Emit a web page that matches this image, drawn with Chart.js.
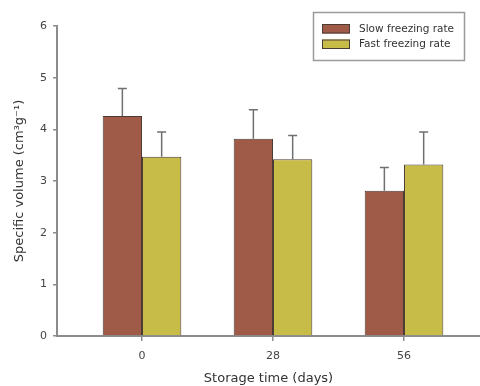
<!DOCTYPE html>
<html>
<head>
<meta charset="utf-8">
<script src="https://cdn.jsdelivr.net/npm/chart.js@4"></script>
<style>
  html, body { margin: 0; padding: 0; background: #fff; }
  #c { display: block; }
</style>
</head>
<body>
<canvas id="c" width="480" height="386"></canvas>
<script>
// Specific volume of frozen samples over storage time
const storageDays = [0, 28, 56];
const slowMeans = [4.26, 3.82, 2.81];
const slowErrors = [0.53, 0.56, 0.45];
const fastMeans = [3.47, 3.42, 3.32];
const fastErrors = [0.48, 0.46, 0.63];
const seriesNames = ['Slow freezing rate', 'Fast freezing rate'];
const yTickValues = [0, 1, 2, 3, 4, 5, 6];

const FONT = 'DejaVu Sans';
const AXIS_GREY = '#8c8c8c';
const TEXT_GREY = '#444';

function toPoints(means) {
  return storageDays.map((d, i) => ({ x: d, y: means[i] }));
}

// Upper error whiskers drawn on top of each bar
const errorBars = {
  id: 'errorBars',
  afterDatasetsDraw(chart) {
    const ctx = chart.ctx;
    const yScale = chart.scales.y;
    chart.data.datasets.forEach((ds, i) => {
      const meta = chart.getDatasetMeta(i);
      meta.data.forEach((bar, j) => {
        const top = yScale.getPixelForValue(ds.data[j].y + ds.errors[j]);
        ctx.save();
        ctx.strokeStyle = '#707070';
        ctx.lineWidth = 1.5;
        ctx.beginPath();
        ctx.moveTo(bar.x, bar.y);
        ctx.lineTo(bar.x, top);
        ctx.moveTo(bar.x - 4.5, top);
        ctx.lineTo(bar.x + 4.5, top);
        ctx.stroke();
        ctx.restore();
      });
    });
  }
};

// Boxed legend in the upper right corner
const boxedLegend = {
  id: 'boxedLegend',
  afterDraw(chart) {
    const ctx = chart.ctx;
    ctx.save();
    ctx.strokeStyle = '#9a9a9a';
    ctx.lineWidth = 1.5;
    ctx.strokeRect(313.5, 12.5, 151, 48);
    ctx.font = '10.5px ' + FONT;
    ctx.textBaseline = 'middle';
    ctx.textAlign = 'left';
    chart.data.datasets.forEach((ds, i) => {
      const y = 24 + i * 15.5;
      ctx.fillStyle = ds.backgroundColor;
      ctx.fillRect(322, y, 28, 9.5);
      ctx.strokeStyle = '#4a3b33';
      ctx.lineWidth = 1;
      ctx.strokeRect(322.5, y + 0.5, 27, 8.5);
      ctx.fillStyle = '#333';
      ctx.fillText(ds.label, 359, y + 5);
    });
    ctx.restore();
  }
};

new Chart(document.getElementById('c'), {
  type: 'bar',
  data: {
    datasets: [
      {
        label: seriesNames[0],
        data: toPoints(slowMeans),
        errors: slowErrors,
        backgroundColor: '#a05a48',
        borderColor: '#4a3b33',
        borderWidth: 1
      },
      {
        label: seriesNames[1],
        data: toPoints(fastMeans),
        errors: fastErrors,
        backgroundColor: '#c8bc48',
        borderColor: '#4a3b33',
        borderWidth: 1
      }
    ]
  },
  options: {
    responsive: false,
    animation: false,
    devicePixelRatio: 1,
    layout: { padding: { top: 26, left: 12, right: 0, bottom: 0 } },
    datasets: {
      bar: { categoryPercentage: 0.6, barPercentage: 1.0 }
    },
    plugins: {
      legend: { display: false },
      tooltip: { enabled: false }
    },
    scales: {
      x: {
        type: 'linear',
        offset: false,
        min: -18.17,
        max: 72.24,
        afterBuildTicks(scale) {
          scale.ticks = storageDays.map(v => ({ value: v }));
        },
        afterFit(scale) { scale.height = 50; },
        ticks: {
          color: TEXT_GREY,
          font: { family: FONT, size: 11 },
          padding: 9,
          callback: v => String(v)
        },
        grid: {
          offset: false,
          drawOnChartArea: false,
          drawTicks: true,
          tickLength: 5,
          color: AXIS_GREY,
          lineWidth: 1.5
        },
        border: { color: AXIS_GREY, width: 2 },
        title: {
          display: true,
          text: 'Storage time (days)',
          color: '#333',
          font: { family: FONT, size: 13 },
          padding: 0
        }
      },
      y: {
        min: 0,
        max: 6,
        afterBuildTicks(scale) {
          scale.ticks = yTickValues.map(v => ({ value: v }));
        },
        afterFit(scale) { scale.width = 45; },
        ticks: {
          color: TEXT_GREY,
          font: { family: FONT, size: 11 },
          padding: 6,
          callback: v => String(v)
        },
        grid: {
          drawOnChartArea: false,
          drawTicks: true,
          tickLength: 4,
          color: AXIS_GREY,
          lineWidth: 1.5
        },
        border: { color: AXIS_GREY, width: 2 },
        title: {
          display: true,
          text: 'Specific volume (cm³g⁻¹)',
          color: '#333',
          font: { family: FONT, size: 13 },
          padding: 0
        }
      }
    }
  },
  plugins: [errorBars, boxedLegend]
});
</script>
</body>
</html>
